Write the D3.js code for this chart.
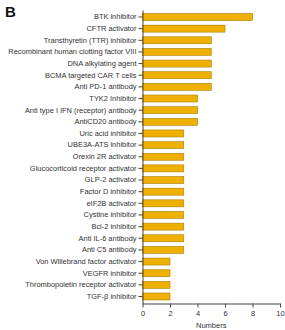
<!DOCTYPE html>
<html>
<head>
<meta charset="utf-8">
<script src="https://cdn.jsdelivr.net/npm/d3@7"></script>
<style>
  body { margin: 0; background: #fff; }
  text { font-family: "Liberation Sans", Arial, sans-serif; }
</style>
</head>
<body>
<div id="chart"></div>
<script>
// categories, top to bottom
const targets = [
  "BTK inhibitor", "CFTR activator", "Transthyretin (TTR) inhibitor",
  "Recombinant human clotting factor VIII", "DNA alkylating agent",
  "BCMA targeted CAR T cells", "Anti PD-1 antibody", "TYK2 Inhibitor",
  "Anti type I IFN (receptor) antibody", "AntiCD20 antibody",
  "Uric acid inhibitor", "UBE3A-ATS inhibitor", "Orexin 2R activator",
  "Glucocorticoid receptor activator", "GLP-2 activator", "Factor D inhibitor",
  "eIF2B activator", "Cystine inhibitor", "Bcl-2 inhibitor", "Anti IL-6 antibody",
  "Anti C5 antibody", "Von Willebrand factor activator", "VEGFR inhibitor",
  "Thrombopoietin receptor activator", "TGF-\u03b2 inhibitor"
];
const counts = [8, 6, 5, 5, 5, 5, 5, 4, 4, 4, 3, 3, 3, 3, 3, 3, 3, 3, 3, 3, 3, 2, 2, 2, 2];
const xTicks = [0, 2, 4, 6, 8, 10];

const width = 285, height = 330;
const margin = { top: 10, right: 5, bottom: 26, left: 142.5 };

const svg = d3.select("#chart").append("svg")
  .attr("width", width)
  .attr("height", height);

const x = d3.scaleLinear()
  .domain([0, 10])
  .range([margin.left, 280]);

const y = d3.scaleBand()
  .domain(targets)
  .range([margin.top, 303.5])
  .paddingInner(0.4)
  .paddingOuter(0.3);

// bars
svg.selectAll(".bar")
  .data(targets)
  .join("rect")
  .attr("class", "bar")
  .attr("x", x(0))
  .attr("y", d => y(d))
  .attr("width", (d, i) => x(counts[i]) - x(0))
  .attr("height", y.bandwidth())
  .attr("fill", "#f0b000")
  .attr("stroke", "#a88000")
  .attr("stroke-width", 0.6);

// y axis
const yAxis = svg.append("g")
  .attr("transform", `translate(${x(0)},0)`)
  .call(d3.axisLeft(y).tickSize(4).tickPadding(2).tickSizeOuter(0));
yAxis.selectAll("text")
  .attr("font-size", 7.45)
  .attr("fill", "#333");
yAxis.selectAll("line, path").attr("stroke", "#444");

// x axis
const xAxis = svg.append("g")
  .attr("transform", "translate(0,303.5)")
  .call(d3.axisBottom(x).tickValues(xTicks).tickSize(4).tickPadding(3).tickSizeOuter(0));
xAxis.selectAll("text")
  .attr("font-size", 7.5)
  .attr("fill", "#333");
xAxis.selectAll("line, path").attr("stroke", "#444");

svg.append("text")
  .attr("x", (x(0) + x(10)) / 2)
  .attr("y", 328)
  .attr("text-anchor", "middle")
  .attr("font-size", 7.5)
  .attr("fill", "#333")
  .text("Numbers");

svg.append("text")
  .attr("x", 5)
  .attr("y", 17)
  .attr("font-size", 15)
  .attr("font-weight", "bold")
  .attr("fill", "#111")
  .text("B");
</script>
</body>
</html>
